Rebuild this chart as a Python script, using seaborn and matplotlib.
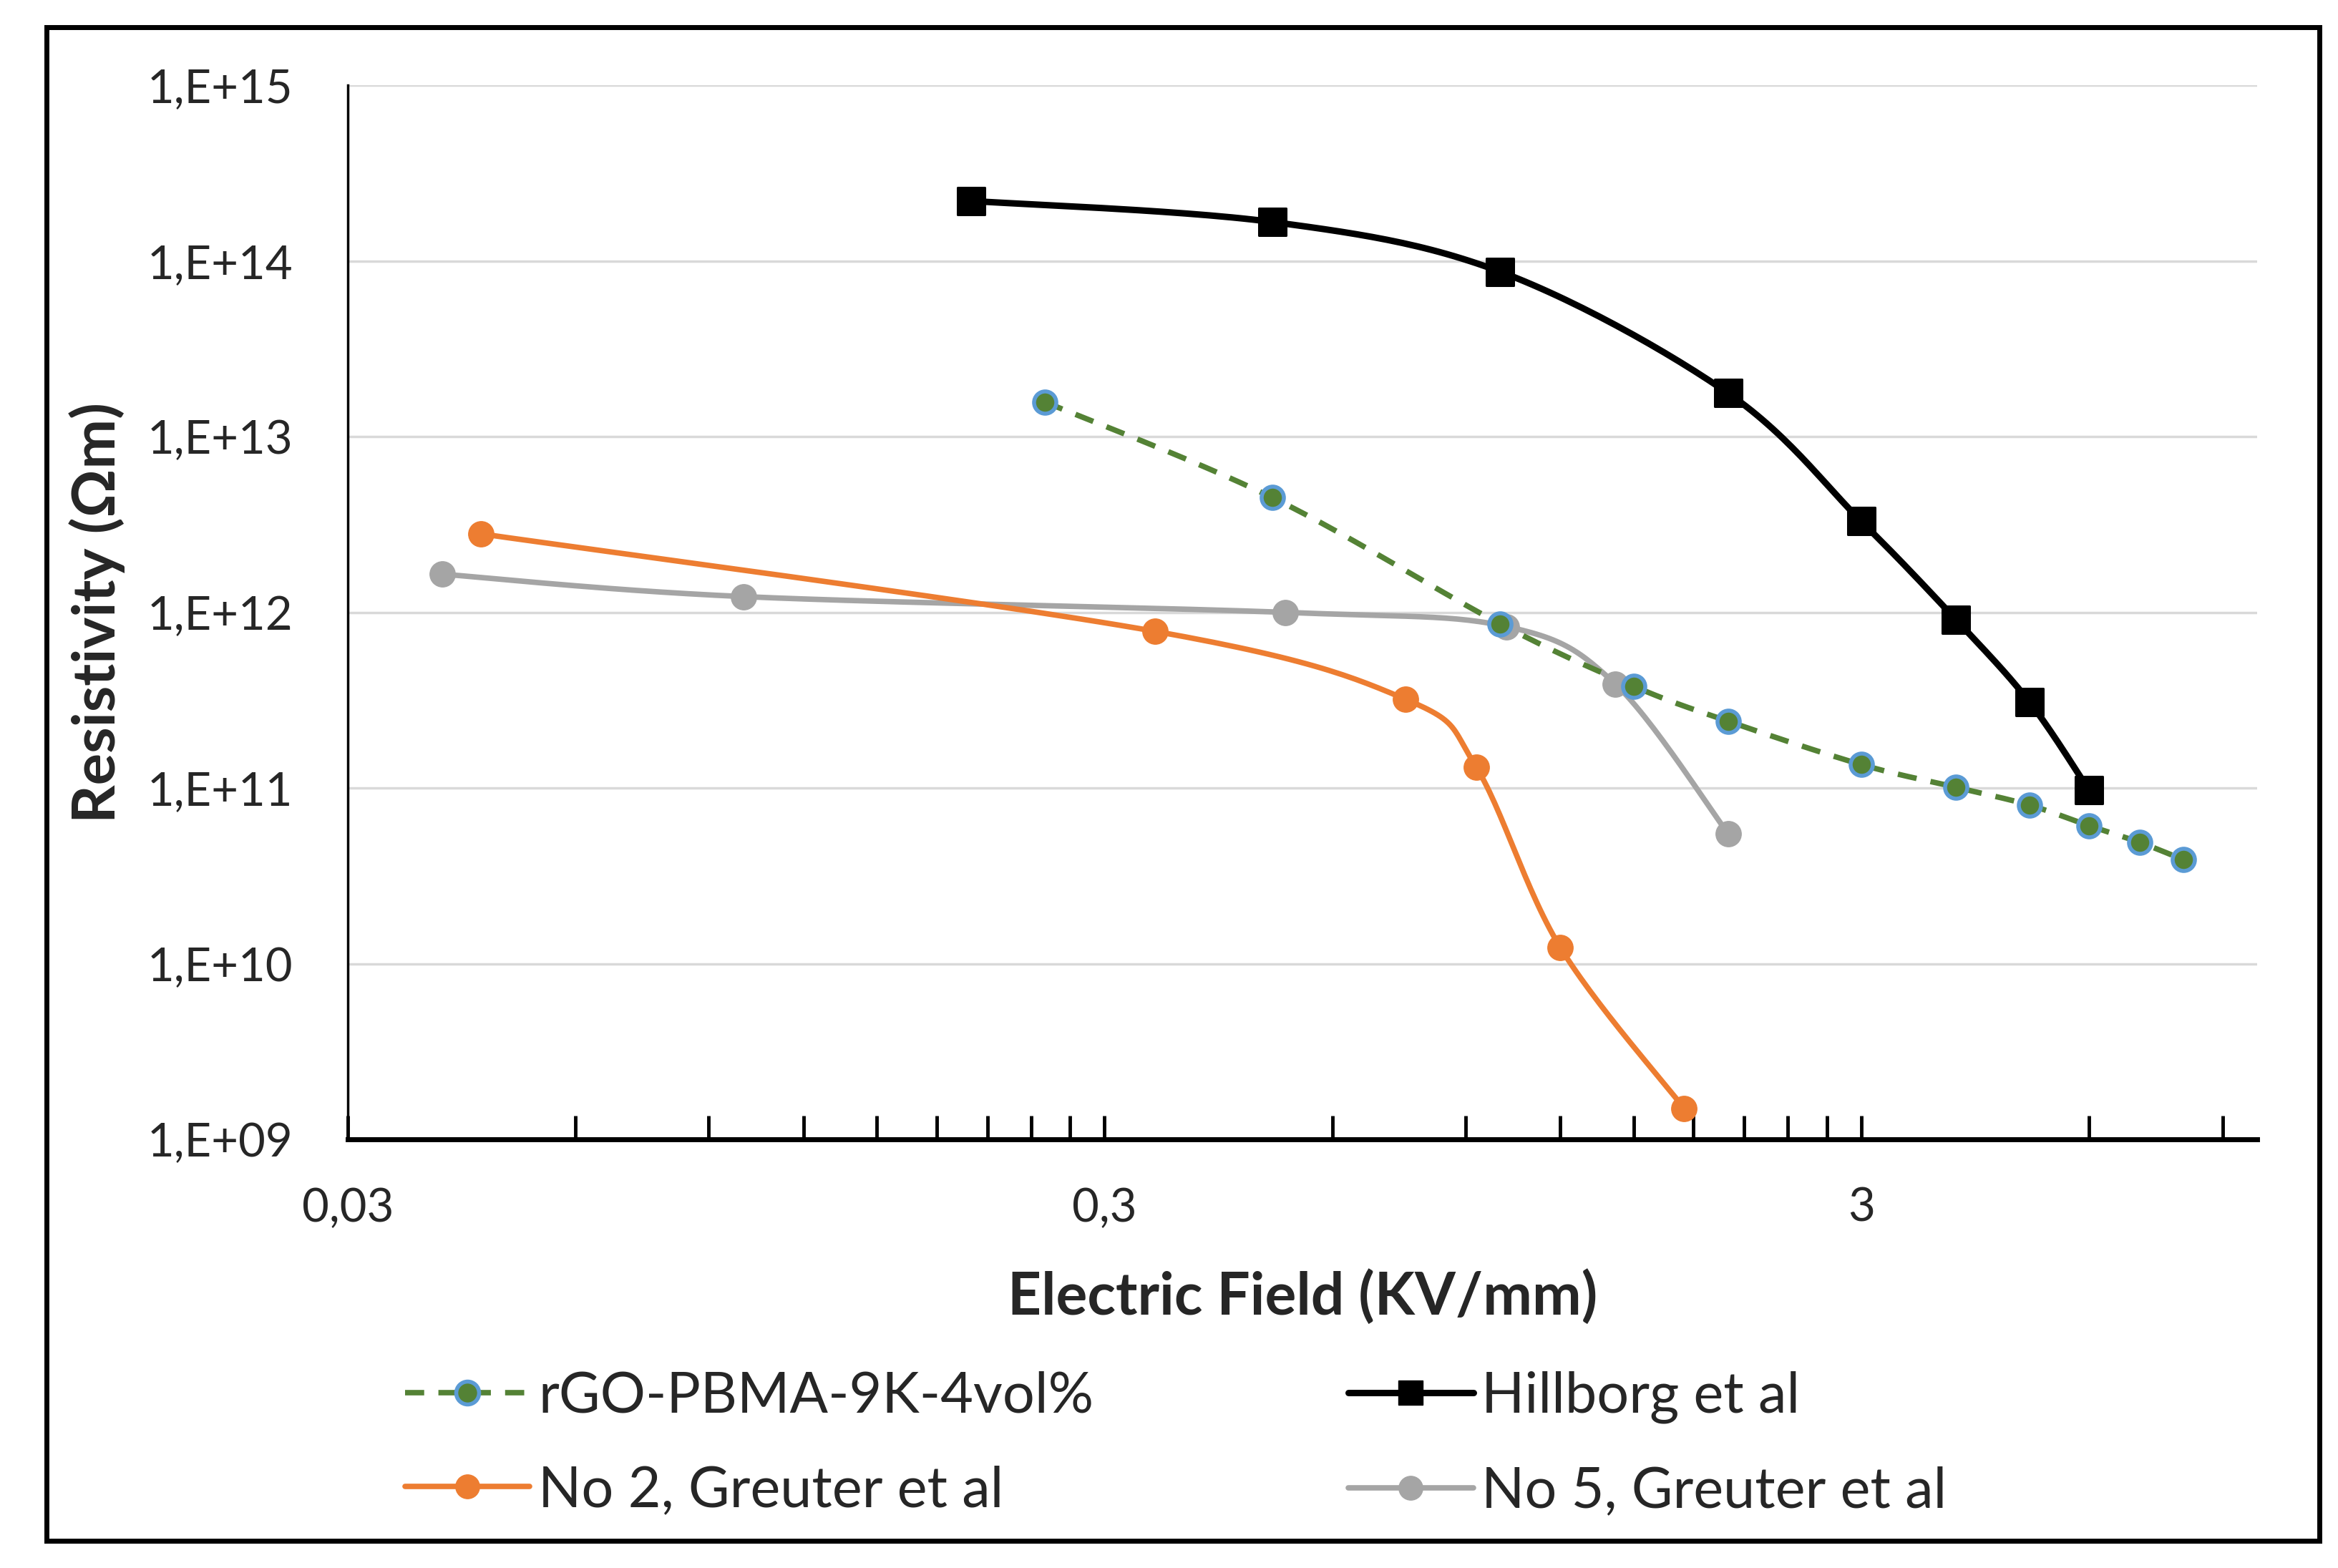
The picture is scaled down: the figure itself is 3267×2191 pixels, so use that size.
import numpy as np
import pandas as pd
import matplotlib
matplotlib.use("Agg")
import matplotlib.pyplot as plt
from matplotlib.lines import Line2D
from matplotlib.patches import Rectangle
from matplotlib.ticker import FixedLocator, FuncFormatter, NullFormatter
import seaborn as sns

# values
rgo_field = [0.25, 0.5, 1.0, 1.5, 2.0, 3.0, 4.0, 5.0, 6.0, 7.0, 8.0]
rgo_res = [1.58e13, 4.5e12, 8.6e11, 3.8e11, 2.4e11, 1.36e11, 1.01e11, 8.0e10, 6.1e10, 4.9e10, 3.9e10]

hill_field = [0.2, 0.5, 1.0, 2.0, 3.0, 4.0, 5.0, 6.0]
hill_res = [2.2e14, 1.67e14, 8.7e13, 1.77e13, 3.3e12, 9.1e11, 3.1e11, 9.7e10]

no2_field = [0.045, 0.35, 0.75, 0.93, 1.2, 1.75]
no2_res = [2.8e12, 7.8e11, 3.2e11, 1.31e11, 1.24e10, 1.5e9]

no5_field = [0.04, 0.1, 0.52, 1.02, 1.42, 2.0]
no5_res = [1.65e12, 1.23e12, 1.0e12, 8.3e11, 3.9e11, 5.5e10]

series_names = ["rGO-PBMA-9K-4vol%", "Hillborg et al", "No 2, Greuter et al", "No 5, Greuter et al"]
x_ticks = [0.03, 0.3, 3]
x_ticklabels = ["0,03", "0,3", "3"]
y_ticks = [1e9, 1e10, 1e11, 1e12, 1e13, 1e14, 1e15]

sns.set_theme(style="white")
plt.rcParams["font.family"] = ["Lato", "DejaVu Sans"]

fig = plt.figure(figsize=(32.67, 21.91), dpi=100)
ax = fig.add_axes([0.1487, 0.2734, 0.8167, 0.6721])
ax.set_xscale("log")
ax.set_yscale("log")
ax.set_xlim(0.03, 10)
ax.set_ylim(1e9, 1e15)


def smooth(xs, ys, n=30):
    # Excel-like smoothed line (bezier through the points), in screen-like log space
    u = np.log10(xs) * 505.0
    v = np.log10(ys) * 117.2
    P = np.column_stack([u, v])
    out = [P[0]]
    for i in range(len(P) - 1):
        p0 = P[i - 1] if i > 0 else P[i]
        p1 = P[i]
        p2 = P[i + 1]
        p3 = P[i + 2] if i + 2 < len(P) else P[i + 1]
        c1 = p1 + (p2 - p0) / 6.0
        c2 = p2 - (p3 - p1) / 6.0
        t = np.linspace(0, 1, n)[1:, None]
        seg = ((1 - t) ** 3) * p1 + 3 * ((1 - t) ** 2) * t * c1 + 3 * (1 - t) * t ** 2 * c2 + t ** 3 * p2
        out.extend(seg)
    out = np.array(out)
    return 10 ** (out[:, 0] / 505.0), 10 ** (out[:, 1] / 117.2)


green = "#548235"
blue = "#5b9bd5"
orange = "#ed7d31"
grey = "#a5a5a5"

# grid
for yv in y_ticks[1:]:
    ax.axhline(yv, color="#d9d9d9", lw=2.5, zorder=0)

sx, sy = smooth(no5_field, no5_res)
ax.plot(sx, sy, color=grey, lw=5.5, zorder=2)
sx, sy = smooth(no2_field, no2_res)
ax.plot(sx, sy, color=orange, lw=5.5, zorder=2)
sx, sy = smooth(rgo_field, rgo_res)
ax.plot(sx, sy, color=green, lw=5.5, ls=(0, (3.5, 2.6)), zorder=3)
sx, sy = smooth(hill_field, hill_res)
ax.plot(sx, sy, color="black", lw=6.5, zorder=4)

df_no5 = pd.DataFrame({"E": no5_field, "R": no5_res})
df_no2 = pd.DataFrame({"E": no2_field, "R": no2_res})
df_rgo = pd.DataFrame({"E": rgo_field, "R": rgo_res})
df_hill = pd.DataFrame({"E": hill_field, "R": hill_res})

sns.scatterplot(data=df_no5, x="E", y="R", ax=ax, s=650, color=grey, edgecolor=grey, linewidth=1, zorder=5)
sns.scatterplot(data=df_no2, x="E", y="R", ax=ax, s=650, color=orange, edgecolor=orange, linewidth=1, zorder=5)
sns.scatterplot(data=df_rgo, x="E", y="R", ax=ax, s=500, color=green, edgecolor=blue, linewidth=4, zorder=6)
sns.scatterplot(data=df_hill, x="E", y="R", ax=ax, s=750, marker="s", color="black", edgecolor="black", zorder=7)

# axes styling
for side in ["top", "right"]:
    ax.spines[side].set_visible(False)
ax.spines["left"].set_color("black")
ax.spines["left"].set_linewidth(2.5)
ax.spines["bottom"].set_color("black")
ax.spines["bottom"].set_linewidth(5)

ax.yaxis.set_major_locator(FixedLocator(y_ticks))
ax.yaxis.set_minor_locator(FixedLocator([]))
ax.yaxis.set_major_formatter(FuncFormatter(lambda v, p: "1,E+%02d" % int(round(np.log10(v)))))
ax.tick_params(axis="y", length=0, labelsize=47, pad=55)

minor = [0.03 * k for k in range(2, 10)] + [0.3 * k for k in range(2, 10)] + [3.0 * k for k in range(2, 4)]
ax.xaxis.set_major_locator(FixedLocator(x_ticks))
ax.xaxis.set_minor_locator(FixedLocator(minor))
ax.xaxis.set_minor_formatter(NullFormatter())
ax.set_xticklabels(x_ticklabels)
ax.tick_params(axis="x", which="both", bottom=True, direction="in", length=24, width=3.5,
               color="black", labelsize=47, pad=48)

ax.set_xlabel("Electric Field (KV/mm)", fontsize=59, fontweight="bold", labelpad=40)
ax.set_ylabel("Resistivity (Ωm)", fontsize=60, fontweight="bold", labelpad=22)
ax.set_facecolor("white")

h_rgo = Line2D([], [], color=green, lw=5.5, ls=(0, (3.5, 2.6)), marker="o", markersize=23,
               markerfacecolor=green, markeredgecolor=blue, markeredgewidth=4)
h_hill = Line2D([], [], color="black", lw=6.5, marker="s", markersize=25,
                markerfacecolor="black", markeredgecolor="black")
h_no2 = Line2D([], [], color=orange, lw=5.5, marker="o", markersize=24,
               markerfacecolor=orange, markeredgecolor=orange)
h_no5 = Line2D([], [], color=grey, lw=5.5, marker="o", markersize=24,
               markerfacecolor=grey, markeredgecolor=grey)
# legend fills column by column, so order gives rows: rGO | Hillborg, No 2 | No 5
fig.legend([h_rgo, h_no2, h_hill, h_no5],
           [series_names[0], series_names[2], series_names[1], series_names[3]],
           loc="center", ncol=2, bbox_to_anchor=(0.503, 0.079),
           frameon=False, fontsize=57, handlelength=2.2, handletextpad=0.15,
           columnspacing=4.5, labelspacing=0.75)

fig.patches.append(Rectangle((0.0199, 0.0172), 0.9722, 0.9656, transform=fig.transFigure,
                             fill=False, edgecolor="black", lw=5, zorder=10))

fig.savefig("out.png", dpi=100, facecolor="white")
